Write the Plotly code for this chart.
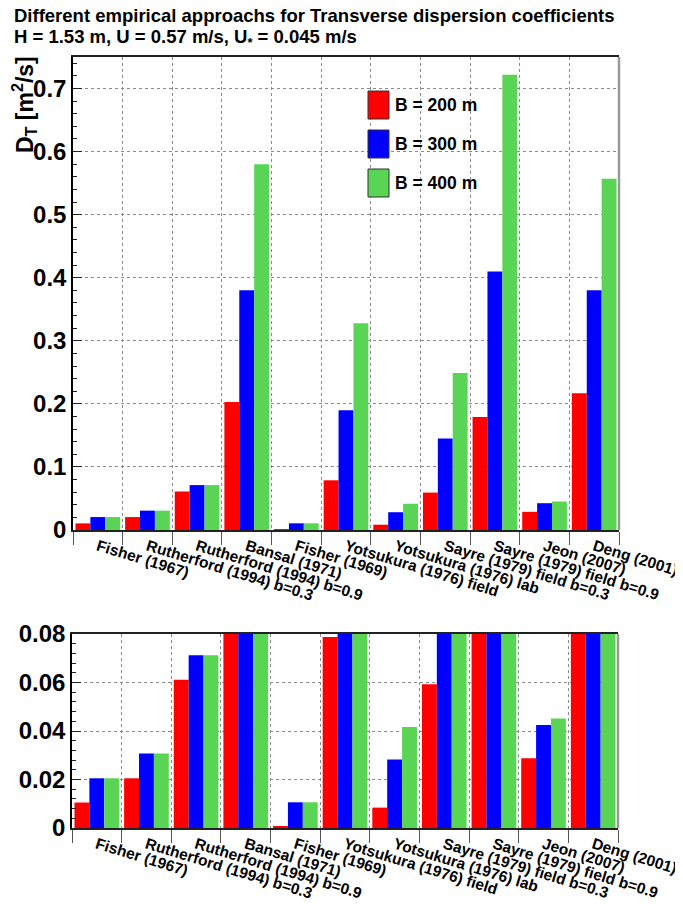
import plotly.graph_objects as go

# ---------------- data ----------------
categories = [
    "Fisher (1967)",
    "Rutherford (1994) b=0.3",
    "Rutherford (1994) b=0.9",
    "Bansal (1971)",
    "Fisher (1969)",
    "Yotsukura (1976) field",
    "Yotsukura (1976) lab",
    "Sayre (1979) field b=0.3",
    "Sayre (1979) field b=0.9",
    "Jeon (2007)",
    "Deng (2001)",
]
b200 = [0.0105, 0.0205, 0.0611, 0.203, 0.0008, 0.0788, 0.0084, 0.0593, 0.179, 0.0288, 0.217]
b300 = [0.0205, 0.0307, 0.0712, 0.380, 0.0106, 0.190, 0.0282, 0.145, 0.410, 0.0425, 0.380]
b400 = [0.0205, 0.0307, 0.0712, 0.580, 0.0106, 0.328, 0.0416, 0.249, 0.722, 0.0452, 0.557]
series_names = ["B = 200 m", "B = 300 m", "B = 400 m"]
series_values = [b200, b300, b400]
colors = ["#FF0000", "#0000FF", "#59D454"]

title_line1 = "Different empirical approachs for Transverse dispersion coefficients"
title_line2 = "H = 1.53 m, U = 0.57 m/s, U<sub>*</sub> = 0.045 m/s"
y_title = "D<sub>T</sub> [m<sup>2</sup>/s]"

# page body has an 8px margin: figure drawn at (8,8) inside the 683x904 window
OFF = 8
W, H = 683 - OFF, 904 - OFF
FONT = "Liberation Sans, Arial, sans-serif"


def px(x):
    return (x - OFF) / W


def py(y):
    return 1 - (y - OFF) / H


fig = go.Figure()
for name, vals, col in zip(series_names, series_values, colors):
    for xa, ya in (("x", "y"), ("x2", "y2")):
        fig.add_trace(go.Bar(x=categories, y=vals, name=name, marker=dict(color=col, line=dict(width=0)),
                             xaxis=xa, yaxis=ya, showlegend=False))

xcommon = dict(
    type="category", tickson="boundaries", ticks="outside", ticklen=13, tickcolor="#555",
    showgrid=True, gridcolor="#8a8a8a", griddash="dot", gridwidth=1,
    showline=True, linecolor="#222", linewidth=1.5, mirror=True, automargin=False,
    tickangle=17, tickfont=dict(family=FONT, size=15.5, color="black", weight="bold"),
)
ycommon = dict(
    ticks="inside", ticklen=9, tickcolor="#222", showgrid=True, gridcolor="#8a8a8a", griddash="dot",
    showline=True, linecolor="black", linewidth=1.5, zeroline=False, automargin=False,
    tickfont=dict(family=FONT, size=24, color="black", weight="bold"),
)

fig.update_layout(
    width=W, height=H, margin=dict(l=0, r=0, t=0, b=0, autoexpand=False),
    paper_bgcolor="white", plot_bgcolor="white", showlegend=False,
    barmode="group", bargap=0.1, bargroupgap=0,
    xaxis=dict(domain=[px(73), px(619)], anchor="y", **xcommon),
    yaxis=dict(domain=[py(530), py(57)], anchor="x", range=[0, 0.75], dtick=0.1,
               minor=dict(dtick=0.02, ticks="inside", ticklen=4, tickcolor="#222", showgrid=False),
               **ycommon),
    xaxis2=dict(domain=[px(72), px(618)], anchor="y2", **xcommon),
    yaxis2=dict(domain=[py(828), py(634)], anchor="x2", range=[0, 0.08], dtick=0.02,
                minor=dict(dtick=0.004, ticks="inside", ticklen=4, tickcolor="#222", showgrid=False),
                **ycommon),
)

shapes = []
for xr, yr in (("x domain", "y domain"), ("x2 domain", "y2 domain")):
    shapes.append(dict(type="line", xref=xr, yref=yr, x0=1, x1=1, y0=0, y1=1,
                       line=dict(color="#999", width=2.5)))

annotations = [
    dict(text=f"<b>{title_line1}</b>", x=px(12), y=py(15), xref="paper", yref="paper",
         xanchor="left", yanchor="middle", showarrow=False,
         font=dict(family=FONT, size=18.5, color="black")),
    dict(text=f"<b>{title_line2}</b>", x=px(12), y=py(38), xref="paper", yref="paper",
         xanchor="left", yanchor="middle", showarrow=False,
         font=dict(family=FONT, size=18.5, color="black")),
    dict(text=f"<b>{y_title}</b>", x=px(24), y=py(105), xref="paper", yref="paper",
         xanchor="center", yanchor="middle", textangle=-90, showarrow=False,
         font=dict(family=FONT, size=23, color="black")),
]

# legend drawn as boxes + labels
leg_centers = [105, 144, 183]
for name, col, cy in zip(series_names, colors, leg_centers):
    shapes.append(dict(type="rect", xref="paper", yref="paper",
                       x0=px(368), x1=px(389), y0=py(cy + 14), y1=py(cy - 14),
                       fillcolor=col, line=dict(color="#333", width=1)))
    annotations.append(dict(text=f"<b>{name}</b>", x=px(393), y=py(cy), xref="paper", yref="paper",
                            xanchor="left", yanchor="middle", showarrow=False,
                            font=dict(family=FONT, size=17.5, color="black")))

fig.update_layout(shapes=shapes, annotations=annotations)
fig.write_html("out.html")
